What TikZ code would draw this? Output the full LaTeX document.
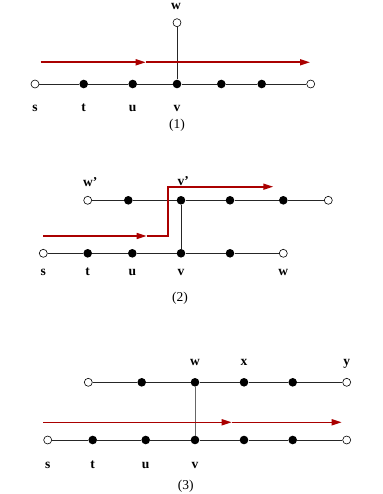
\documentclass[tikz,border=0pt]{standalone}
\usepackage{fontspec}
\setmainfont{Liberation Serif}
\usetikzlibrary{arrows.meta}
\definecolor{pathred}{RGB}{170,0,0}
\tikzset{
  dot/.style={circle, fill=black, inner sep=0pt, minimum size=8.6pt},
  hollow/.style={circle, draw=black, fill=white, line width=.6pt, inner sep=0pt, minimum size=8pt},
  lbl/.style={anchor=base, inner sep=0pt, font=\fontsize{13.5}{15}\selectfont\bfseries},
  capt/.style={anchor=base, inner sep=0pt, font=\fontsize{13.5}{15}\selectfont},
  wire/.style={draw=black!85, line width=.8pt},
  route/.style={draw=pathred, line width=1.6pt, -{Triangle[length=10pt, width=6pt]}},
}
\begin{document}
\begin{tikzpicture}[x=1pt, y=-1pt]
   \useasboundingbox (0,0) rectangle (382,494);
   % (1)
   \node[hollow] (s1) at (35,84) {};
   \node[dot] (t1) at (83.7,84) {};
   \node[dot] (u1) at (132.7,84) {};
   \node[dot] (v1) at (177,84) {};
   \node[dot] (a1) at (221.3,84) {};
   \node[dot] (b1) at (261.7,84) {};
   \node[hollow] (e1) at (310.7,84) {};
   \node[hollow] (w1) at (177,22.7) {};
   \draw[wire] (s1) -- (t1) -- (u1) -- (v1) -- (a1) -- (b1) -- (e1);
   \draw[wire] (v1) -- (w1);
   \node[lbl] (lw1) at (176,10) {w};
   \node[lbl] (ls1) at (35,111.5) {s};
   \node[lbl] (lt1) at (83.7,111.5) {t};
   \node[lbl] (lu1) at (132.7,111.5) {u};
   \node[lbl] (lv1) at (177,111.5) {v};
   \node[capt] (c1) at (177,129) {(1)};
   \coordinate (r1) at (40.7,62.3);
   \coordinate (m1) at (145.7,62.3);
   \coordinate (n1) at (310,62.3);
   \draw[route] (r1) -- (m1);
   \draw[route] (m1) -- (n1);
   % (2)
   \node[hollow] (wp2) at (87.7,200.3) {};
   \node[dot] (p2) at (128.3,200.3) {};
   \node[dot] (vp2) at (181,200.3) {};
   \node[dot] (q2) at (230,200.3) {};
   \node[dot] (g2) at (283.3,200.3) {};
   \node[hollow] (e2) at (328.3,200.3) {};
   \node[hollow] (s2) at (43.3,253.3) {};
   \node[dot] (t2) at (87.7,253.3) {};
   \node[dot] (u2) at (132.3,253.3) {};
   \node[dot] (v2) at (181,253.3) {};
   \node[dot] (a2) at (230,253.3) {};
   \node[hollow] (w2) at (283.3,253.3) {};
   \draw[wire] (wp2) -- (p2) -- (vp2) -- (q2) -- (g2) -- (e2);
   \draw[wire] (s2) -- (t2) -- (u2) -- (v2) -- (a2) -- (w2);
   \draw[wire] (v2) -- (vp2);
   \node[lbl, anchor=base west] (lwp2) at (83,186) {w’};
   \node[lbl, anchor=base west] (lvp2) at (177.5,185.5) {v’};
   \node[lbl] (ls2) at (43.3,275) {s};
   \node[lbl] (lt2) at (87.7,275) {t};
   \node[lbl] (lu2) at (132.3,275) {u};
   \node[lbl] (lv2) at (181,275) {v};
   \node[lbl] (lw2) at (283.3,275) {w};
   \node[capt] (c2) at (180,301.7) {(2)};
   \coordinate (r2) at (43.3,236);
   \coordinate (m2) at (146.7,236);
   \coordinate (k2) at (167.7,236);
   \coordinate (h2) at (167.7,186.7);
   \coordinate (n2) at (273.3,186.7);
   \draw[route] (r2) -- (m2);
   \draw[route] (m2) -- (k2) -- (h2) -- (n2);
   % (3)
   \node[hollow] (o3) at (88.3,382.3) {};
   \node[dot] (p3) at (141.7,382.3) {};
   \node[dot] (w3) at (195,382.3) {};
   \node[dot] (x3) at (244,382.3) {};
   \node[dot] (q3) at (292.7,382.3) {};
   \node[hollow] (y3) at (346.7,382.3) {};
   \node[hollow] (s3) at (47.7,440) {};
   \node[dot] (t3) at (92.7,440) {};
   \node[dot] (u3) at (145.7,440) {};
   \node[dot] (v3) at (195,440) {};
   \node[dot] (a3) at (244,440) {};
   \node[dot] (b3) at (292.7,440) {};
   \node[hollow] (e3) at (346.7,440) {};
   \draw[wire] (o3) -- (p3) -- (w3) -- (x3) -- (q3) -- (y3);
   \draw[wire] (s3) -- (t3) -- (u3) -- (v3) -- (a3) -- (b3) -- (e3);
   \draw[wire, draw=black!60] (v3) -- (w3);
   \node[lbl] (lw3) at (195,365) {w};
   \node[lbl] (lx3) at (244,365) {x};
   \node[lbl] (ly3) at (346.7,365) {y};
   \node[lbl] (ls3) at (47.7,468.3) {s};
   \node[lbl] (lt3) at (92.7,468.3) {t};
   \node[lbl] (lu3) at (145.7,468.3) {u};
   \node[lbl] (lv3) at (195,468.3) {v};
   \node[capt] (c3) at (185.7,489) {(3)};
   \coordinate (r3) at (43.3,422.3);
   \coordinate (m3) at (231.7,422.3);
   \coordinate (n3) at (341.7,422.3);
   \draw[route] (r3) -- (m3);
   \draw[route] (m3) -- (n3);
\end{tikzpicture}
\end{document}
